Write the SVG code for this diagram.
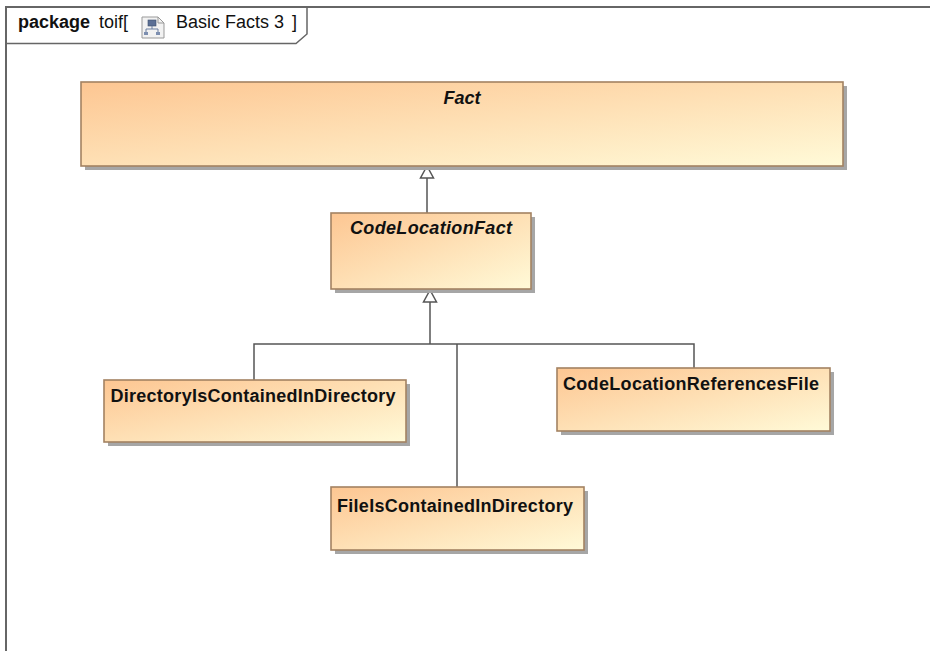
<svg xmlns="http://www.w3.org/2000/svg" width="930" height="651" viewBox="0 0 930 651">
<style>
.shadow{fill:#a6a6a6}
.box{fill:url(#g);stroke:#a38262;stroke-width:1.6}
.t{font-family:"Liberation Sans",Arial,sans-serif;font-size:18px;font-weight:bold;fill:#111}
.ti{font-style:italic}
.h{font-family:"Liberation Sans",Arial,sans-serif;font-size:18px;fill:#111}
.c{stroke:#555;stroke-width:1.5;fill:none}
.tri{fill:#fff;stroke:#555;stroke-width:1.5}
</style>
<defs>
<linearGradient id="g" x1="0" y1="0" x2="1" y2="1">
<stop offset="0" stop-color="#fdc692"/>
<stop offset="1" stop-color="#fffad8"/>
</linearGradient>
</defs>
<rect width="930" height="651" fill="#fff"/>
<g id="frame">
<path d="M6,660 V7 H940" fill="none" stroke="#666" stroke-width="2"/>
<path d="M6,43.5 H296 L307,34 V7" fill="none" stroke="#666" stroke-width="1.5"/>
<text x="18" y="27.5" class="h" font-weight="bold">package</text>
<text x="99" y="27.5" class="h">toif[</text>
<g id="icon">
<path d="M142,17 H158 L164,23 V38 H142 Z" fill="#f2f2f2" stroke="#999" stroke-width="1"/>
<path d="M158,17 V23 H164" fill="none" stroke="#999" stroke-width="1"/>
<rect x="148" y="20" width="8" height="6" fill="#5b6f95" stroke="#3d4d6d" stroke-width="0.6"/>
<path d="M152,26 V29 M146,29 H158 M146,29 V32 M158,29 V32" stroke="#6b7fa0" stroke-width="1" fill="none"/>
<rect x="144" y="32" width="4" height="3" fill="#7d8fb0"/>
<rect x="156" y="32" width="4" height="3" fill="#7d8fb0"/>
</g>
<text x="176" y="27.5" class="h">Basic Facts 3</text>
<text x="292" y="27.5" class="h">]</text>
</g>
<g id="connectors">
<path class="c" d="M427,178 V213"/>
<polygon class="tri" points="427,166 420.5,178 433.5,178"/>
<path class="c" d="M430,302 V344 M254,380 V344 H694 V368 M457,344 V487"/>
<polygon class="tri" points="430,290 423.5,302 436.5,302"/>
</g>
<g id="Fact">
<rect class="shadow" x="85" y="86" width="762" height="84"/>
<rect class="box" x="81" y="82" width="762" height="84"/>
<text x="462" y="103.5" class="t ti" text-anchor="middle">Fact</text>
</g>
<g id="CodeLocationFact">
<rect class="shadow" x="335" y="217" width="200" height="76"/>
<rect class="box" x="331" y="213" width="200" height="76"/>
<text x="431" y="234" class="t ti" text-anchor="middle" textLength="162">CodeLocationFact</text>
</g>
<g id="DirectoryIsContainedInDirectory">
<rect class="shadow" x="108" y="384" width="302" height="62"/>
<rect class="box" x="104" y="380" width="302" height="62"/>
<text x="110.5" y="401.5" class="t" textLength="285">DirectoryIsContainedInDirectory</text>
</g>
<g id="CodeLocationReferencesFile">
<rect class="shadow" x="561" y="372" width="273" height="63"/>
<rect class="box" x="557" y="368" width="273" height="63"/>
<text x="563" y="390" class="t" textLength="256">CodeLocationReferencesFile</text>
</g>
<g id="FileIsContainedInDirectory">
<rect class="shadow" x="335" y="491" width="253" height="63"/>
<rect class="box" x="331" y="487" width="253" height="63"/>
<text x="337" y="511.5" class="t" textLength="236">FileIsContainedInDirectory</text>
</g>
</svg>
